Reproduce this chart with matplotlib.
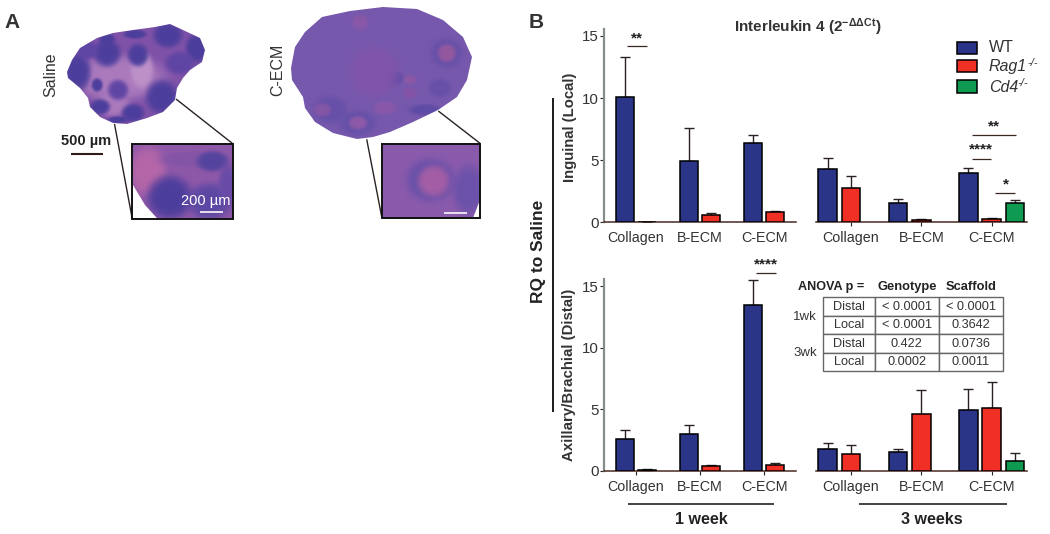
import matplotlib
matplotlib.use("Agg")
import matplotlib.pyplot as plt
from matplotlib.patches import Polygon, Rectangle
import numpy as np

plt.rcParams['font.family'] = ['Liberation Sans', 'DejaVu Sans']
plt.rcParams['mathtext.fontset'] = 'custom'
plt.rcParams['mathtext.rm'] = 'Liberation Sans'
plt.rcParams['mathtext.it'] = 'Liberation Sans:italic'
plt.rcParams['mathtext.bf'] = 'Liberation Sans:bold'

W, H = 1050, 534

scaffolds = ["Collagen", "B-ECM", "C-ECM"]

# 1 week, inguinal
local_1wk_wt = [10.05, 4.9, 6.4]
local_1wk_wt_err = [3.25, 2.7, 0.6]
local_1wk_rag = [0.03, 0.6, 0.8]
local_1wk_rag_err = [0.0, 0.15, 0.12]
# 3 weeks, inguinal
local_3wk_wt = [4.32, 1.58, 3.97]
local_3wk_wt_err = [0.88, 0.32, 0.43]
local_3wk_rag = [2.76, 0.16, 0.24]
local_3wk_rag_err = [1.0, 0.11, 0.14]
local_3wk_cd4 = [1.53]
local_3wk_cd4_err = [0.3]
# 1 week, axillary/brachial
distal_1wk_wt = [2.57, 3.03, 13.45]
distal_1wk_wt_err = [0.75, 0.73, 2.07]
distal_1wk_rag = [0.1, 0.4, 0.51]
distal_1wk_rag_err = [0.03, 0.11, 0.11]
# 3 weeks, axillary/brachial
distal_3wk_wt = [1.81, 1.57, 4.92]
distal_3wk_wt_err = [0.49, 0.24, 1.76]
distal_3wk_rag = [1.35, 4.65, 5.14]
distal_3wk_rag_err = [0.73, 1.89, 2.05]
distal_3wk_cd4 = [0.81]
distal_3wk_cd4_err = [0.65]

anova_cells = [["Distal", "< 0.0001", "< 0.0001"],
               ["Local", "< 0.0001", "0.3642"],
               ["Distal", "0.422", "0.0736"],
               ["Local", "0.0002", "0.0011"]]

BLUE = "#2a3587"
RED = "#f03024"
GREEN = "#0e9a50"
DARK = "#2a2222"
TEXT = "#333333"
GREY = "#858c8c"

fig = plt.figure(figsize=(W / 100, H / 100), dpi=100)


def px_axes(left, top, right, bottom):
    return fig.add_axes([left / W, 1 - bottom / H, (right - left) / W, (bottom - top) / H])


def bars(ax, x, values, errs, color, width):
    ax.bar(x, values, width, color=color, edgecolor="black", linewidth=1.1, zorder=3)
    ax.errorbar(x, values, yerr=[np.zeros(len(errs)), errs], fmt="none", ecolor=DARK,
                elinewidth=1.0, capsize=3.6, capthick=1.0, zorder=2)


def style(ax, top, show_y, xticks):
    ax.set_xlim(-0.5, 2.5)
    ax.set_ylim(0, top)
    ax.patch.set_alpha(0)
    ax.spines[['top', 'right']].set_visible(False)
    ax.spines['bottom'].set_color("#4a2a22")
    ax.spines['bottom'].set_linewidth(1.1)
    ax.set_xticks([0, 1, 2], scaffolds, fontsize=10.3, color=TEXT)
    ax.tick_params(axis='x', length=3 if xticks else 0, pad=3.5 if xticks else 6.5, color=DARK)
    if show_y:
        ax.spines['left'].set_color(GREY)
        ax.spines['left'].set_linewidth(1.6)
        ax.set_yticks([0, 5, 10, 15])
        ax.tick_params(axis='y', labelsize=10.8, labelcolor=TEXT, length=3, width=0.8, color=DARK, pad=1)
    else:
        ax.spines['left'].set_visible(False)
        ax.set_yticks([])


def two_group(ax, wt, wt_err, rag, rag_err):
    w = 0.27
    x = np.arange(3)
    bars(ax, x - 0.17, wt, wt_err, BLUE, w)
    bars(ax, x + 0.17, rag, rag_err, RED, w)
    style(ax, 15.6, True, ax is ax_d1)


def three_group(ax, wt, wt_err, rag, rag_err, cd4, cd4_err):
    w = 0.265
    x = np.arange(3)
    bars(ax, x - 0.332, wt, wt_err, BLUE, w)
    bars(ax, x, rag, rag_err, RED, w)
    bars(ax, [2.332], cd4, cd4_err, GREEN, w)
    style(ax, 15.6, False, True)


ax_l1 = px_axes(604, 28.5, 796, 222.3)
ax_l3 = px_axes(816, 28.5, 1026.7, 222.3)
ax_d1 = px_axes(604, 278.6, 796, 471)
ax_d3 = px_axes(816, 278.6, 1026.7, 471)

two_group(ax_l1, local_1wk_wt, local_1wk_wt_err, local_1wk_rag, local_1wk_rag_err)
three_group(ax_l3, local_3wk_wt, local_3wk_wt_err, local_3wk_rag, local_3wk_rag_err,
            local_3wk_cd4, local_3wk_cd4_err)
two_group(ax_d1, distal_1wk_wt, distal_1wk_wt_err, distal_1wk_rag, distal_1wk_rag_err)
three_group(ax_d3, distal_3wk_wt, distal_3wk_wt_err, distal_3wk_rag, distal_3wk_rag_err,
            distal_3wk_cd4, distal_3wk_cd4_err)

# overlay in picture pixels for everything that is not a chart
ov = fig.add_axes([0, 0, 1, 1], zorder=5)
ov.set_xlim(0, W)
ov.set_ylim(H, 0)
ov.axis("off")
ov.patch.set_alpha(0)


def label(x, y, s, size=10, weight="normal", rotation=0, color=TEXT, ha="center", style="normal"):
    ov.text(x, y, s, fontsize=size, fontweight=weight, rotation=rotation, color=color,
            ha=ha, va="center", fontstyle=style)


def line(x0, y0, x1, y1, color=DARK, lw=1.0):
    ov.plot([x0, x1], [y0, y1], color=color, lw=lw, solid_capstyle="butt")


# legend, rows are not evenly spaced in the original
for y0, y1, c in [(42.3, 54, BLUE), (60.3, 72.3, RED), (80.3, 93, GREEN)]:
    ov.add_patch(Rectangle((956.5, y0), 20.5, y1 - y0, fc=c, ec="black", lw=1.1, zorder=3))
label(988.7, 48, "WT", 11.5, ha="left")
label(988.7, 67, "Rag1", 11.5, ha="left", style="italic")
label(1027, 62.5, "-/-", 8, ha="left", style="italic")
label(988.7, 87, "Cd4", 11.5, ha="left", style="italic")
label(1017.5, 82.5, "-/-", 8, ha="left", style="italic")

# titles and axis names
label(808, 27, r"Interleukin 4 (2$^{\mathbf{-\Delta\Delta Ct}}$)", 11, "bold")
label(570, 127, "Inguinal (Local)", 10.7, "bold", 90)
label(569, 375, "Axillary/Brachial (Distal)", 10.8, "bold", 90)
label(538, 251, "RQ to Saline", 12.5, "bold", 90, "#222222")
line(553, 98, 553, 412, "#1a1a1a", 1.4)

label(701, 519, "1 week", 11.5, "bold", color="#222222")
label(931.7, 519, "3 weeks", 11.5, "bold", color="#222222")
line(627.7, 503.7, 774.3, 503.7, "#222222", 1.2)
line(859, 503.7, 1006.7, 503.7, "#222222", 1.2)

# significance marks
for x0, x1, y in [(626.7, 646.7, 46.3), (972, 1016, 134.7), (972, 991, 158.7),
                  (995, 1014.7, 192.7), (756, 775.7, 272.7)]:
    line(x0, y, x1, y, "#3a2622", 0.9)
for x, y, stars in [(636.7, 38, "**"), (994, 126.5, "**"), (981, 149.5, "****"),
                    (1005.7, 184, "*"), (765.7, 264, "****")]:
    label(x, y, stars, 11, "bold", color="#222222")

# ANOVA table
col_x = [822.7, 874.7, 939, 1002.7]
row_y = [297.3, 371.3]
tb = ov.table(cellText=anova_cells, cellLoc="center",
              colWidths=[(col_x[i + 1] - col_x[i]) / (col_x[3] - col_x[0]) for i in range(3)],
              bbox=[col_x[0] / W, 1 - row_y[1] / H, (col_x[3] - col_x[0]) / W, (row_y[1] - row_y[0]) / H])
tb.auto_set_font_size(False)
for cell in tb.get_celld().values():
    cell.set_edgecolor("#666666")
    cell.set_linewidth(1.0)
    cell.get_text().set_fontsize(9.2)
    cell.get_text().set_color(TEXT)
label(831, 287, "ANOVA p =", 9.1, "bold", color="#222222")
label(907, 287, "Genotype", 9.3, "bold", color="#222222")
label(971, 287, "Scaffold", 9.3, "bold", color="#222222")
label(805, 317, "1wk", 9.5)
label(805, 353, "3wk", 9.5)


# panel A: soft tissue sections
def tissue(outline, base, blobs, box, grain=0.035):
    x0, y0, x1, y1 = box
    xx, yy = np.meshgrid(np.linspace(x0, x1, int(x1 - x0) * 2), np.linspace(y0, y1, int(y1 - y0) * 2))
    img = np.ones(xx.shape + (3,)) * matplotlib.colors.to_rgb(base)
    for cx, cy, rx, ry, col in blobs:
        d = ((xx - cx) / rx) ** 2 + ((yy - cy) / ry) ** 2
        a = np.exp(-(d / 1.3) ** 3)[..., None]
        img = img * (1 - a) + np.array(matplotlib.colors.to_rgb(col)) * a
    # fine stain texture
    tex = np.sin(xx * 2.3 + yy * 1.1) * np.sin(yy * 2.9 - xx * 0.7) + np.sin(xx * 5.1 - yy * 3.7)
    img = np.clip(img + grain * tex[..., None], 0, 1)
    im = ov.imshow(img, extent=(x0, x1, y1, y0), aspect="auto", zorder=1, interpolation="bilinear")
    clip = Polygon(np.array(outline), closed=True, transform=ov.transData, fc="none", ec="none")
    ov.add_patch(clip)
    im.set_clip_path(clip)


FOL = "#4c3e9c"
MID = "#5f45a4"
PALE = "#ab7abd"

saline_outline = [(67, 72), (72, 60), (80, 48), (97, 38), (113, 33), (133, 30), (155, 27), (170, 24),
                  (183, 30), (200, 38), (205, 50), (202, 62), (190, 70), (183, 78), (177, 88), (175, 100),
                  (163, 112), (147, 118), (127, 124), (113, 123), (100, 117), (90, 107), (88, 98),
                  (80, 88), (68, 78)]
saline_blobs = [(118, 78, 42, 20, PALE), (142, 70, 10, 16, "#bd92c8"), (112, 105, 16, 10, PALE),
                (168, 35, 13, 11, FOL), (197, 48, 10, 13, FOL), (107, 53, 12, 12, FOL), (138, 55, 9, 10, FOL),
                (180, 63, 13, 10, MID), (77, 72, 12, 17, FOL), (87, 50, 10, 8, MID), (107, 39, 7, 5, FOL),
                (135, 34, 10, 4, FOL), (97, 85, 5, 6, FOL), (118, 90, 9, 9, MID), (162, 97, 14, 15, FOL),
                (100, 107, 9, 7, FOL), (133, 113, 10, 8, FOL), (118, 120, 9, 3, FOL)]
tissue(saline_outline, "#7f52a8", saline_blobs, (60, 20, 210, 128))

cecm_outline = [(291, 68), (295, 47), (305, 32), (322, 17), (350, 11), (383, 7), (417, 9), (443, 20),
                (463, 37), (472, 57), (467, 80), (457, 97), (438, 110), (413, 122), (390, 132),
                (373, 137), (357, 139), (333, 133), (315, 122), (305, 108), (303, 97), (292, 80)]
cecm_blobs = [(447, 53, 14, 13, "#6650a8"), (330, 110, 15, 12, "#6650a8"), (358, 123, 16, 11, "#6650a8"),
              (440, 88, 10, 8, "#6650a8"), (425, 110, 14, 5, "#5f4ca6"), (395, 78, 8, 6, "#5f4ca6"),
              (447, 53, 8, 8, "#94589f"), (410, 93, 6, 5, "#8454a6"), (410, 80, 6, 4, "#8c58a6"),
              (322, 110, 8, 6, "#8456a6"), (358, 123, 8, 6, "#8e5aa8"), (360, 22, 7, 7, "#8a58a8"),
              (375, 72, 22, 22, "#8054aa"), (385, 108, 10, 6, "#8a58a8")]
tissue(cecm_outline, "#7658ac", cecm_blobs, (285, 3, 478, 143), 0.025)

# insets
ins1_box = (132.3, 144, 233.3, 219.3)
ins1_blobs = [(148, 172, 16, 22, "#b466a8"), (195, 160, 30, 7, "#8454a6"), (213, 162, 14, 9, "#54449e"),
              (170, 198, 20, 19, FOL), (210, 202, 20, 16, "#5c48a4"), (228, 185, 8, 18, "#6a4ca8")]
tissue([(132.3, 144), (233.3, 144), (233.3, 219.3), (158, 219.3), (145, 205), (133, 185)],
       "#8e58a8", ins1_blobs, ins1_box, 0.05)
ins2_box = (381.7, 144, 480, 218)
ins2_blobs = [(430, 180, 21, 19, "#6650a8"), (433, 181, 14, 14, "#a45ea6"), (468, 190, 14, 22, "#6c52aa")]
tissue([(381.7, 144), (480, 144), (480, 200), (473, 218), (381.7, 218)], "#8a5aac", ins2_blobs, ins2_box, 0.05)

for x0, y0, x1, y1 in [ins1_box, ins2_box]:
    ov.add_patch(Rectangle((x0, y0), x1 - x0, y1 - y0, fc="none", ec="#111111", lw=1.4, zorder=3))
line(114.5, 124, 132.3, 219)
line(176, 99, 232.5, 143.5)
line(366.7, 139.3, 381.7, 216.7)
line(438.3, 111, 480, 143.3)

label(206, 201.5, "200 µm", 10.5, color="white")
line(200, 212.3, 223, 212.3, "#e8e0f0", 1.4)
line(444.3, 212.7, 467.3, 212.7, "#e8e0f0", 1.4)
label(86, 141, "500 µm", 10.5, "bold", color="#222222")
line(70.7, 153.7, 103.3, 153.7, "#331a1a", 1.5)
label(50.7, 75, "Saline", 11.5, rotation=90)
label(278, 70, "C-ECM", 11.5, rotation=90)
label(11.7, 23, "A", 15, "bold")
label(536, 22, "B", 15, "bold")

ov.set_xlim(0, W)
ov.set_ylim(H, 0)
fig.savefig("out.png", dpi=100)
